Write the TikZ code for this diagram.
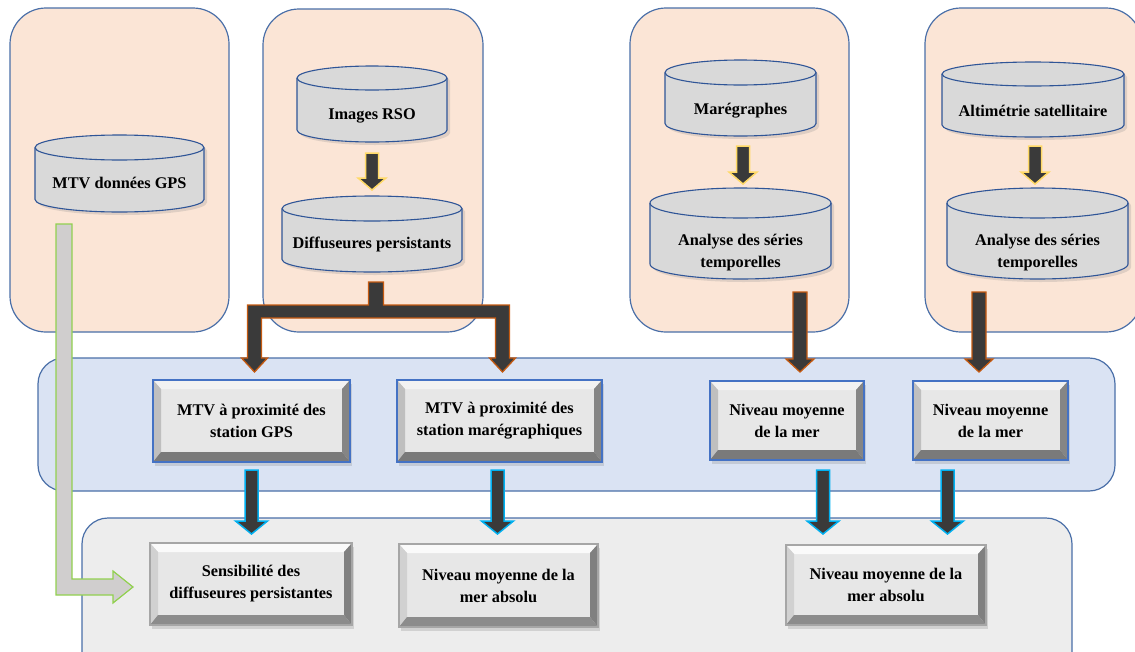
\documentclass[tikz,border=0pt]{standalone}
\usepackage{fontspec}
\setmainfont{Liberation Serif}
\usetikzlibrary{shadows,calc}

\definecolor{peach}{HTML}{FBE5D6}
\definecolor{frame}{HTML}{4A6FA8}
\definecolor{cylgray}{HTML}{D9D9D9}
\definecolor{cylline}{HTML}{2F5597}
\definecolor{bandblue}{HTML}{DAE3F3}
\definecolor{bandgray}{HTML}{EDEDED}
\definecolor{arrowdark}{HTML}{3A3A3A}
\definecolor{orangeedge}{HTML}{C55A11}
\definecolor{cyanedge}{HTML}{00B0F0}
\definecolor{goldedge}{HTML}{FFD966}
\definecolor{greenedge}{HTML}{92D050}
\definecolor{greenfill}{HTML}{D0CECE}
\definecolor{boxblue}{HTML}{4472C4}
\definecolor{boxgray}{HTML}{A6A6A6}
\definecolor{facegray}{HTML}{E7E7E7}

\tikzset{
  panel/.style={fill=peach, draw=frame, line width=1.2pt, rounded corners=36pt},
  band/.style={draw=frame, line width=1.2pt, rounded corners=26pt},
  cylbody/.style={fill=cylgray, draw=cylline, line width=1.1pt,
    drop shadow={shadow xshift=3pt, shadow yshift=-3pt, opacity=0.22}},
  cyledge/.style={draw=cylline, line width=1.1pt},
  labeltext/.style={font=\bfseries\fontsize{16.3}{22}\selectfont, align=center, inner sep=0pt},
  geom/.style={inner sep=0pt, outer sep=0pt, draw=none},
  facebox/.style={fill=facegray, inner sep=0pt, outer sep=0pt, labeltext,
    drop shadow={shadow xshift=2pt, shadow yshift=-4pt, opacity=0.25}},
  bevmidtop/.style={fill=black!5},
  bevmidleft/.style={fill=black!25},
  bevmidright/.style={fill=black!48},
  bevmidbottom/.style={fill=black!52},
  bevlowtop/.style={fill=black!2},
  bevlowleft/.style={fill=black!18},
  bevlowright/.style={fill=black!50},
  bevlowbottom/.style={fill=black!45},
  goldarrow/.style={fill=arrowdark, draw=goldedge, line width=1.5pt},
  orangearrow/.style={fill=arrowdark, draw=orangeedge, line width=1.3pt},
  cyanarrow/.style={fill=arrowdark, draw=cyanedge, line width=1.5pt},
  greenarrow/.style={fill=greenfill, draw=greenedge, line width=1.2pt},
}

% cylinder: name, x1, ytop, x2, ybottom, ellipse radius, text y, text
\newcommand\cyl[8]{%
  \node[geom, minimum width={(#4-#2)*1pt}, minimum height={(#5-#3)*1pt}]
    (#1) at ({(#2+#4)/2},{-(#3+#5)/2}) {};
  \path[cylbody] (#2,{-(#3+#6)}) -- (#2,{-(#5-#6)})
    arc[start angle=180, end angle=360, x radius={(#4-#2)/2}, y radius=#6]
    -- (#4,{-(#3+#6)})
    arc[start angle=0, end angle=180, x radius={(#4-#2)/2}, y radius=#6] -- cycle;
  \draw[cyledge] (#2,{-(#3+#6)})
    arc[start angle=180, end angle=360, x radius={(#4-#2)/2}, y radius=#6];
  \node[labeltext] (#1-t) at ({(#2+#4)/2},{-#7}) {#8};
}

% bevelled box: name, x1, ytop, x2, ybottom, text, edge colour, bevel set
\newcommand\bevbox[8]{%
  \node[facebox, minimum width={(#4-#2)*1pt}, minimum height={(#5-#3)*1pt}]
    (#1) at ({(#2+#4)/2},{-(#3+#5)/2}) {#6};
  \fill[bev#8top] (#1.north west) -- (#1.north east) -- ([shift={(-8,-9)}]#1.north east)
    -- ([shift={(8,-9)}]#1.north west) -- cycle;
  \fill[bev#8left] (#1.north west) -- ([shift={(8,-9)}]#1.north west)
    -- ([shift={(8,10)}]#1.south west) -- (#1.south west) -- cycle;
  \fill[bev#8right] (#1.north east) -- ([shift={(-8,-9)}]#1.north east)
    -- ([shift={(-8,10)}]#1.south east) -- (#1.south east) -- cycle;
  \fill[bev#8bottom] (#1.south west) -- ([shift={(8,10)}]#1.south west)
    -- ([shift={(-8,10)}]#1.south east) -- (#1.south east) -- cycle;
  \draw[draw=#7, line width=1.2pt] (#1.north west) rectangle (#1.south east);
}

% downward block arrow: style, from, to, shaft half width, head half width, head length
\newcommand\blockarrow[6]{%
  \path[#1] let \p1=#2, \p2=#3 in
    (\x1-#4pt,\y1) -- (\x1+#4pt,\y1) -- (\x1+#4pt,\y2+#6pt) -- (\x1+#5pt,\y2+#6pt)
    -- (\x1,\y2) -- (\x1-#5pt,\y2+#6pt) -- (\x1-#4pt,\y2+#6pt) -- cycle;
}

\begin{document}
\begin{tikzpicture}[x=1pt, y=1pt]
\useasboundingbox (0,0) rectangle (1135,-651);
\clip (0,0) rectangle (1135,-651);

% source panels
\draw[panel] (10,-8) rectangle (229,-332);
\draw[panel] (263,-9) rectangle (483,-332);
\draw[panel] (630,-8) rectangle (849,-332);
\draw[panel] (925,-8) rectangle (1142,-332);

% processing and result bands
\draw[band, fill=bandblue] (38,-358) rectangle (1115,-491);
\draw[band, fill=bandgray] (82,-518) rectangle (1072,-680);

% data stores
\cyl{gpsd}{35}{135}{204}{212}{12.5}{183}{MTV données GPS}
\cyl{rso}{297}{66}{447}{142}{12}{116}{Images RSO}
\cyl{diff}{282}{196}{462}{272}{12.5}{244}{Diffuseures persistants}
\cyl{mar}{665}{60}{816}{136}{12.5}{111}{Marégraphes}
\cyl{ana1}{650}{188}{831}{279}{15}{253}{Analyse des séries\\temporelles}
\cyl{alt}{942}{62}{1124}{137}{12}{111}{Altimétrie satellitaire}
\cyl{ana2}{947}{188}{1128}{279}{15}{253}{Analyse des séries\\temporelles}

% processing steps
\bevbox{gps}{153}{380}{350}{462}{MTV à proximité des\\station GPS}{boxblue}{mid}
\bevbox{mtvm}{397}{380}{602}{462}{MTV à proximité des\\station marégraphiques}{boxblue}{mid}
\bevbox{niv1}{710}{381}{864}{460}{Niveau moyenne\\de la mer}{boxblue}{mid}
\bevbox{niv2}{913}{381}{1068}{460}{Niveau moyenne\\de la mer}{boxblue}{mid}

% results
\bevbox{sens}{150}{543}{352}{625}{Sensibilité des\\diffuseures persistantes}{boxgray}{low}
\bevbox{abs1}{399}{544}{598}{627}{Niveau moyenne de la\\mer absolu}{boxgray}{low}
\bevbox{abs2}{786}{545}{986}{625}{Niveau moyenne de la\\mer absolu}{boxgray}{low}

% arrows inside the panels
\blockarrow{goldarrow}{([yshift=-11pt]rso.south)}{([yshift=6pt]diff.north)}{6.5}{14}{12}
\blockarrow{goldarrow}{([xshift=2.5pt,yshift=-10pt]mar.south)}{([yshift=4pt]ana1.north)}{6.5}{14}{12}
\blockarrow{goldarrow}{([xshift=2pt,yshift=-9pt]alt.south)}{([yshift=4pt]ana2.north)}{6.5}{14}{12}

% arrows from the panels to the processing steps
\path[orangearrow] let \p0=([xshift=4pt,yshift=-10pt]diff.south),
    \p1=([xshift=3pt,yshift=8pt]gps.north), \p2=([xshift=3pt,yshift=8pt]mtvm.north) in
  (\x0-7.5pt,\y0) -- (\x0+7.5pt,\y0) -- (\x0+7.5pt,\y0-23pt) -- (\x2+7pt,\y0-23pt)
  -- (\x2+7pt,\y2+14pt) -- (\x2+13pt,\y2+14pt) -- (\x2,\y2) -- (\x2-13pt,\y2+14pt)
  -- (\x2-7pt,\y2+14pt) -- (\x2-7pt,\y0-36pt) -- (\x1+7pt,\y0-36pt)
  -- (\x1+7pt,\y1+14pt) -- (\x1+13pt,\y1+14pt) -- (\x1,\y1) -- (\x1-13pt,\y1+14pt)
  -- (\x1-7pt,\y1+14pt) -- (\x1-7pt,\y0-23pt) -- (\x0-7.5pt,\y0-23pt) -- cycle;
\blockarrow{orangearrow}{([xshift=59.5pt,yshift=-13pt]ana1.south)}{([yshift=9pt]niv1.north)}{7}{14}{13}
\blockarrow{orangearrow}{([xshift=-58.5pt,yshift=-13pt]ana2.south)}{([yshift=9pt]niv2.north)}{7}{14}{13}

% arrows from the processing steps to the results
\blockarrow{cyanarrow}{([yshift=-8pt]gps.south)}{([yshift=9pt]sens.north)}{6.5}{16}{13}
\blockarrow{cyanarrow}{([xshift=-2pt,yshift=-8pt]mtvm.south)}{([yshift=10pt]abs1.north)}{6.5}{16}{13}
\blockarrow{cyanarrow}{([xshift=36pt,yshift=-10pt]niv1.south)}{([yshift=11pt]abs2.north)}{6.5}{16}{13}
\blockarrow{cyanarrow}{([xshift=-43pt,yshift=-10pt]niv2.south)}{([yshift=11pt]abs2.north)}{6.5}{16}{13}

% GPS data feeding the sensitivity result
\path[greenarrow] let \p1=([xshift=-55.5pt,yshift=-12pt]gpsd.south),
    \p2=([xshift=-17pt,yshift=-3pt]sens.west) in
  (\x1-8pt,\y1) -- (\x1+8pt,\y1) -- (\x1+8pt,\y2+8pt) -- (\x2-20pt,\y2+8pt)
  -- (\x2-20pt,\y2+16pt) -- (\x2,\y2) -- (\x2-20pt,\y2-16pt) -- (\x2-20pt,\y2-8pt)
  -- (\x1-8pt,\y2-8pt) -- cycle;
\end{tikzpicture}
\end{document}
